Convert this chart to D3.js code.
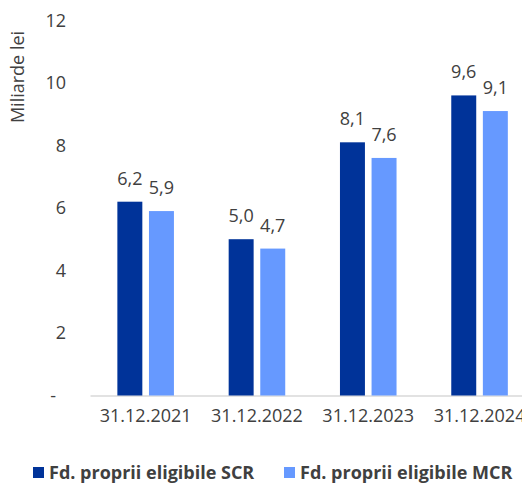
<!DOCTYPE html>
<html><head><meta charset="utf-8">
<script src="https://cdn.jsdelivr.net/npm/d3@7"></script>
<style>
html,body{margin:0;padding:0;background:#fff;overflow:hidden;}
text{font-family:"Open Sans",sans-serif;}
</style></head>
<body><svg id="chart" width="522" height="483"></svg>
<script>
const categories = ["31.12.2021","31.12.2022","31.12.2023","31.12.2024"];
const seriesNames = ["Fd. proprii eligibile SCR","Fd. proprii eligibile MCR"];
const scrValues = [6.2, 5.0, 8.1, 9.6];
const mcrValues = [5.9, 4.7, 7.6, 9.1];
const yTicks = [0,2,4,6,8,10,12];
const colors = ["#003399","#6699FF"];

const svg = d3.select("#chart");
const y = d3.scaleLinear().domain([0,12]).range([395.5, 20.4]);
const x0 = d3.scaleBand().domain(categories).range([90, 535.2]).padding(0);
const x1 = d3.scaleBand().domain(seriesNames).range([0, x0.bandwidth()]).paddingInner(0.21).paddingOuter(0.866);

const data = categories.map((c,i)=>({cat:c, vals:[scrValues[i], mcrValues[i]]}));
const fmt = v => d3.format(".1f")(v).replace(".", ",");

// y tick labels
const yAxis = d3.axisLeft(y).tickValues(yTicks).tickSize(0).tickPadding(0)
  .tickFormat(d => d===0 ? "-" : d);
const gy = svg.append("g").attr("transform","translate(66,0)").call(yAxis);
gy.select(".domain").remove();
gy.selectAll("text").attr("font-size",18).attr("fill","#404040").attr("font-family","Open Sans")
  .attr("dx", d => d===0 ? -10 : 0);

// baseline axis
const xAxis = d3.axisBottom(x0).tickSize(0).tickPadding(14);
const gx = svg.append("g").attr("transform",`translate(0,${y(0)})`).call(xAxis);
gx.select(".domain").attr("stroke","#d9d9d9").attr("stroke-width",1.5);
gx.selectAll("text").attr("font-size",18).attr("fill","#404040").attr("font-family","Open Sans");

// bars
const groups = svg.append("g").selectAll("g").data(data).join("g")
  .attr("transform", d => `translate(${x0(d.cat)},0)`);
groups.selectAll("rect").data(d => d.vals.map((v,j)=>({s:seriesNames[j], v, j})))
  .join("rect")
  .attr("x", d => x1(d.s)).attr("width", x1.bandwidth())
  .attr("y", d => y(d.v)).attr("height", d => y(0)-y(d.v))
  .attr("fill", d => colors[d.j]);
groups.selectAll("text").data(d => d.vals.map((v,j)=>({s:seriesNames[j], v, j})))
  .join("text")
  .attr("x", d => x1(d.s)+x1.bandwidth()/2).attr("y", d => y(d.v)-17)
  .attr("text-anchor","middle").attr("font-size",18).attr("fill","#404040")
  .text(d => fmt(d.v));

// y title
svg.append("text").attr("transform","translate(24,77) rotate(-90)")
  .attr("text-anchor","middle").attr("font-size",18).attr("fill","#404040")
  .text("Miliarde lei");

// legend
const legX = [33, 284];
const leg = svg.append("g").selectAll("g").data(seriesNames).join("g")
  .attr("transform",(d,i)=>`translate(${legX[i]},478.5)`);
leg.append("rect").attr("x",0).attr("y",-11.5).attr("width",11).attr("height",11)
  .attr("fill",(d,i)=>colors[i]);
leg.append("text").attr("x",16).attr("y",0).attr("font-size",18).attr("font-weight","bold")
  .attr("fill","#404040").text(d=>d);
</script></body></html>
